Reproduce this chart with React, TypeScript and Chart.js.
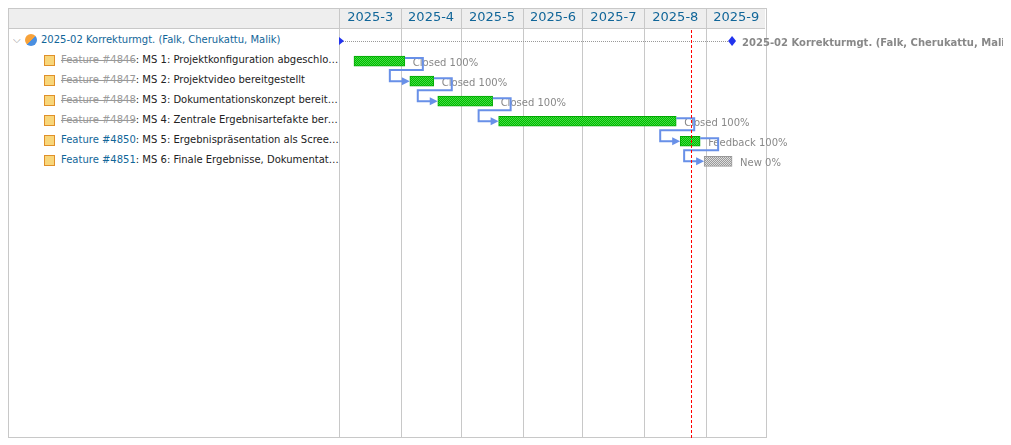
import { useEffect, useRef } from "react"
import { Chart, registerables } from "chart.js"

Chart.register(...registerables)

// days counted from 2025-03-01
const monthLabels = ["2025-3", "2025-4", "2025-5", "2025-6", "2025-7", "2025-8", "2025-9"]
const monthStarts = [0, 31, 61, 92, 122, 153, 184, 214]
const projectName = "2025-02 Korrekturmgt. (Falk, Cherukattu, Malik)"
const projectSpan = [0, 197]
const issueIds = ["#4846", "#4847", "#4848", "#4849", "#4850", "#4851"]
const issueTitles = [
  "MS 1: Projektkonfiguration abgeschlossen",
  "MS 2: Projektvideo bereitgestellt",
  "MS 3: Dokumentationskonzept bereitgestellt",
  "MS 4: Zentrale Ergebnisartefakte bereitgestellt",
  "MS 5: Ergebnispräsentation als Screencast",
  "MS 6: Finale Ergebnisse, Dokumentation",
]
const issueClosed = [true, true, true, true, false, false]
const issueStart = [7.5, 35.5, 49.5, 80, 171, 183]
const issueEnd = [33, 47.5, 77, 169, 181, 197]
const issueStatus = ["Closed 100%", "Closed 100%", "Closed 100%", "Closed 100%", "Feedback 100%", "New 0%"]
const issueDone = [100, 100, 100, 100, 100, 0]
const relations = [[0, 1], [1, 2], [2, 3], [3, 4], [4, 5]]
const today = 176.5

function makePattern(a: string, b: string) {
  const c = document.createElement("canvas")
  c.width = 2
  c.height = 2
  const g = c.getContext("2d")!
  g.fillStyle = a
  g.fillRect(0, 0, 2, 2)
  g.fillStyle = b
  g.fillRect(0, 0, 1, 1)
  g.fillRect(1, 1, 1, 1)
  return g.createPattern(c, "repeat")!
}

const ganttPlugin = {
  id: "gantt",
  beforeDatasetsDraw(chart: any) {
    const { ctx, chartArea, scales } = chart
    const x = scales.x
    ctx.save()
    ctx.strokeStyle = "#c8c8c8"
    ctx.lineWidth = 1
    monthStarts.forEach((d, i) => {
      const px = Math.round(x.getPixelForValue(d)) + 0.5
      ctx.beginPath()
      ctx.moveTo(px, 0)
      ctx.lineTo(px, chartArea.bottom)
      ctx.stroke()
      if (i < monthLabels.length) {
        const nx = x.getPixelForValue(monthStarts[i + 1])
        ctx.fillStyle = "#116699"
        ctx.font = "13px 'DejaVu Sans'"
        ctx.textAlign = "center"
        ctx.textBaseline = "middle"
        ctx.fillText(monthLabels[i], (px + nx) / 2, 10)
      }
    })
    // project row
    const y = scales.y
    const py = Math.round(y.getPixelForValue(0))
    const ps = x.getPixelForValue(projectSpan[0])
    const pe = x.getPixelForValue(projectSpan[1])
    ctx.strokeStyle = "#999"
    ctx.setLineDash([1, 1])
    ctx.beginPath()
    ctx.moveTo(ps, py + 0.5)
    ctx.lineTo(pe, py + 0.5)
    ctx.stroke()
    ctx.setLineDash([])
    ctx.fillStyle = "#2233ee"
    ctx.beginPath()
    ctx.moveTo(ps, py - 4)
    ctx.lineTo(ps + 5, py)
    ctx.lineTo(ps, py + 4)
    ctx.fill()
    ctx.beginPath()
    ctx.moveTo(pe, py - 5)
    ctx.lineTo(pe + 4, py)
    ctx.lineTo(pe, py + 5)
    ctx.lineTo(pe - 4, py)
    ctx.fill()
    ctx.fillStyle = "#888"
    ctx.font = "bold 10px 'DejaVu Sans'"
    ctx.textAlign = "left"
    ctx.textBaseline = "middle"
    ctx.fillText(projectName, pe + 10, py + 2)
    ctx.restore()
  },
  afterDatasetsDraw(chart: any) {
    const { ctx, chartArea, scales } = chart
    const x = scales.x
    const y = scales.y
    ctx.save()
    ctx.font = "10px 'DejaVu Sans'"
    ctx.fillStyle = "#888"
    ctx.textBaseline = "middle"
    issueStatus.forEach((s, i) => {
      ctx.fillText(s, x.getPixelForValue(issueEnd[i]) + 8, y.getPixelForValue(i + 1) + 2)
    })
    ctx.strokeStyle = "#6890e8"
    ctx.fillStyle = "#6890e8"
    ctx.lineWidth = 2
    relations.forEach(([a, b]) => {
      const xe = x.getPixelForValue(issueEnd[a])
      const ya = y.getPixelForValue(a + 1) - 3
      const xs = x.getPixelForValue(issueStart[b])
      const yb = y.getPixelForValue(b + 1)
      ctx.beginPath()
      ctx.moveTo(xe, ya)
      ctx.lineTo(xe + 18, ya)
      ctx.lineTo(xe + 18, ya + 12)
      ctx.lineTo(xs - 20, ya + 12)
      ctx.lineTo(xs - 20, yb)
      ctx.lineTo(xs - 6, yb)
      ctx.stroke()
      ctx.beginPath()
      ctx.moveTo(xs - 8, yb - 4)
      ctx.lineTo(xs, yb)
      ctx.lineTo(xs - 8, yb + 4)
      ctx.fill()
    })
    const tx = Math.round(x.getPixelForValue(today)) + 0.5
    ctx.strokeStyle = "rgb(255,0,0)"
    ctx.lineWidth = 1
    ctx.setLineDash([3, 2])
    ctx.beginPath()
    ctx.moveTo(tx, chartArea.top)
    ctx.lineTo(tx, chartArea.bottom)
    ctx.stroke()
    ctx.restore()
  },
}

function GanttChart() {
  const ref = useRef<HTMLCanvasElement>(null)
  useEffect(() => {
    if (!ref.current) return
    const green = makePattern("#44dd44", "#00bb00")
    const gray = makePattern("#dddddd", "#999999")
    const chart = new Chart(ref.current, {
      type: "bar",
      data: {
        datasets: [
          {
            data: issueStart.map((s, i) => ({ x: [s, issueEnd[i]], y: i + 1 })) as any,
            backgroundColor: issueDone.map((d) => (d > 0 ? green : gray)),
            borderColor: issueDone.map((d) => (d > 0 ? "#00aa00" : "#999")),
            borderWidth: 1,
            borderSkipped: false,
            barThickness: 10,
          },
        ],
      },
      options: {
        indexAxis: "y",
        animation: false,
        responsive: false,
        events: [],
        layout: { padding: { top: 22, right: 237, left: 0, bottom: 0 } },
        plugins: { legend: { display: false }, tooltip: { enabled: false } },
        scales: {
          x: { type: "linear", min: 0, max: 214, display: false, offset: false },
          y: { type: "linear", min: -0.55, max: 19.8, reverse: true, display: false, offset: false, grace: 0 },
        },
      },
      plugins: [ganttPlugin],
    })
    return () => chart.destroy()
  }, [])
  return <canvas ref={ref} width={664} height={430} style={{ position: "absolute", left: 331, top: 0 }} />
}

export default function App() {
  const font = "'DejaVu Sans', Verdana, sans-serif"
  const rowStyle = (i: number): any => ({
    position: "absolute",
    top: 22 + i * 20,
    height: 20,
    lineHeight: "20px",
    whiteSpace: "nowrap",
    overflow: "hidden",
    textOverflow: "ellipsis",
    fontSize: 10,
  })
  return (
    <div style={{ position: "relative", width: 1003, height: 430, fontFamily: font }}>
      <div style={{ position: "absolute", left: 0, top: 0, width: 757, height: 20, background: "#eeeeee", borderBottom: "1px solid #c8c8c8" }} />
      <div style={{ position: "absolute", left: 0, top: 0, width: 757, height: 428, border: "1px solid #c8c8c8" }} />
      <div style={{ ...rowStyle(0), left: 5, width: 320, color: "#116699" }}>
        <span style={{ color: "#999", marginRight: 4 }}>⌵</span>
        <span style={{ display: "inline-block", width: 12, height: 12, background: "linear-gradient(135deg,#f7a23a 50%,#4a8fe0 50%)", borderRadius: 6, verticalAlign: "middle", marginRight: 4 }} />
        {projectName}
      </div>
      {issueIds.map((id, i) => (
        <div key={id} style={{ ...rowStyle(i + 1), left: 36, width: 295, color: "#222" }}>
          <span style={{ display: "inline-block", width: 11, height: 11, background: "#f8d67a", border: "1px solid #e0902a", verticalAlign: "middle", marginRight: 6, boxSizing: "border-box" }} />
          <span style={{ color: issueClosed[i] ? "#999" : "#116699", textDecoration: issueClosed[i] ? "line-through" : "none" }}>Feature {id}</span>
          : {issueTitles[i]}
        </div>
      ))}
      <GanttChart />
    </div>
  )
}
